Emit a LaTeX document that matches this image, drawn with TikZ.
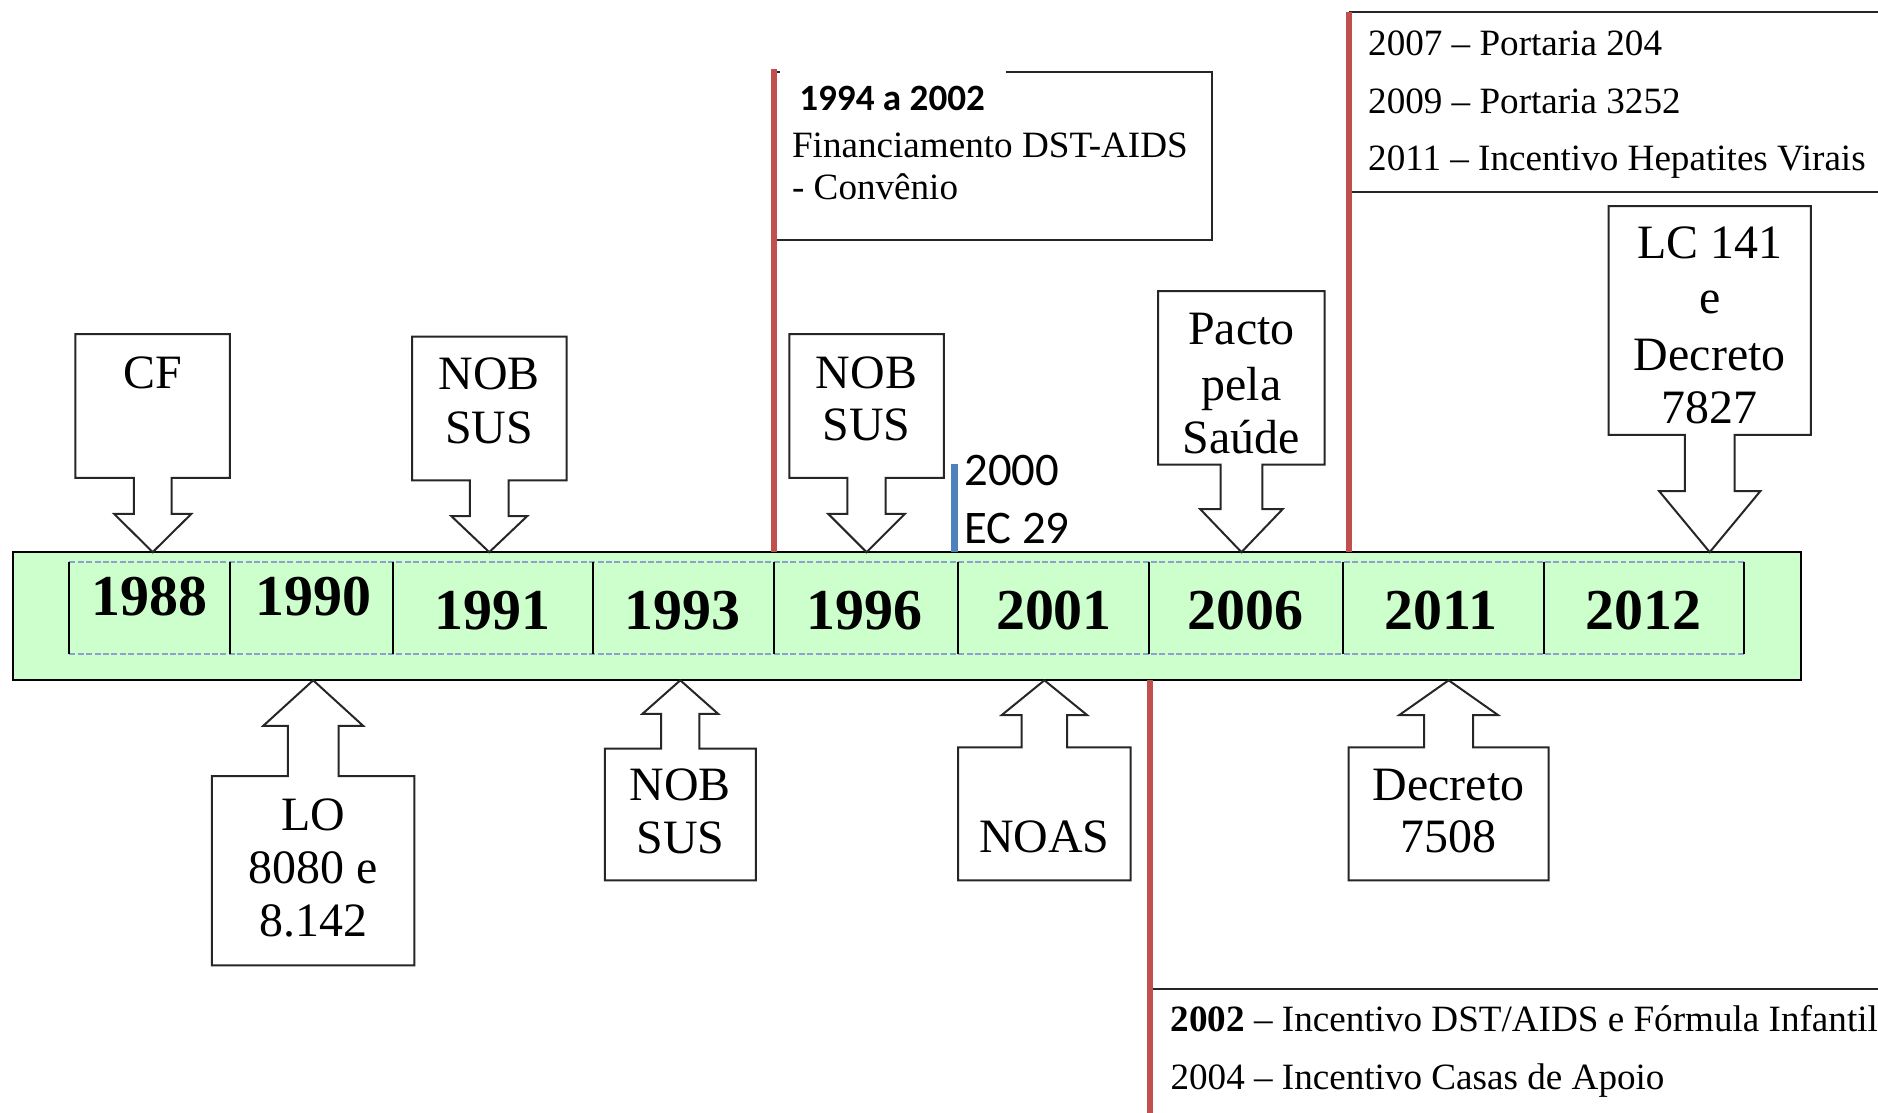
\documentclass[tikz,border=0pt]{standalone}
\usepackage{fontspec}
\setmainfont{Liberation Serif}
\newfontfamily\calfont{Carlito}
\definecolor{bandgreen}{HTML}{CCFFCC}
\definecolor{redline}{HTML}{C0504D}
\definecolor{blueline}{HTML}{4F81BD}
\definecolor{dashblue}{HTML}{8E9FD0}
\tikzset{
  outline/.style={draw=black!85, line width=1pt, fill=white, line join=miter},
  boxline/.style={draw=black!85, line width=1pt},
  ctext/.style={font=\fontsize{24}{28}\selectfont, anchor=base, inner sep=0pt},
  ytext/.style={font=\fontsize{29}{34}\bfseries\selectfont, anchor=base, inner sep=0pt},
  stext/.style={font=\fontsize{18.6}{22}\selectfont, anchor=base west, inner sep=0pt},
  ktext/.style={font=\fontsize{23.4}{28}\calfont\selectfont, anchor=base west, inner sep=0pt},
  redrule/.style={draw=redline, line width=3pt},
  dashrule/.style={draw=dashblue, line width=0.8pt, dash pattern=on 3pt off 1.2pt},
  divider/.style={draw=black, line width=1pt},
}
% down callout: x1 x2 ytop ybot shafthalf headhalf headtop tipy
\newcommand\downcall[8]{%
  \pgfmathsetmacro\cx{(#1+#2)/2}
  \draw[outline] (#1,#4) -- (#1,#3) -- (#2,#3) -- (#2,#4) -- (\cx+#5,#4) -- (\cx+#5,#7)
    -- (\cx+#6,#7) -- (\cx,#8) -- (\cx-#6,#7) -- (\cx-#5,#7) -- (\cx-#5,#4) -- cycle;
}
% up callout: x1 x2 ytop ybot shafthalf headhalf headbase tipy
\newcommand\upcall[8]{%
  \pgfmathsetmacro\cx{(#1+#2)/2}
  \draw[outline] (#1,#3) -- (\cx-#5,#3) -- (\cx-#5,#7) -- (\cx-#6,#7) -- (\cx,#8)
    -- (\cx+#6,#7) -- (\cx+#5,#7) -- (\cx+#5,#3) -- (#2,#3) -- (#2,#4) -- (#1,#4) -- cycle;
}
\begin{document}
\begin{tikzpicture}[x=0.6pt,y=-0.6pt]
\useasboundingbox (0,0) rectangle (1568,929);
\clip (0,0) rectangle (1568,929);

% timeline band
\node[draw=black, line width=1pt, fill=bandgreen, minimum width=895.8pt, minimum height=64.2pt, inner sep=0pt] (band) at (757.5,514.5) {};
\draw[dashrule] (58,469) -- (1456,469);
\draw[dashrule] (58,546) -- (1456,546);
\foreach \xx in {58,192,328,495,646,800,959,1121,1289,1456}
  \draw[divider] (\xx,469) -- (\xx,546);

% years
\node[ytext] (y1988) at (125,514) {1988};
\node[ytext] (y1990) at (262,514) {1990};
\node[ytext] (y1991) at (411,526) {1991};
\node[ytext] (y1993) at (570,526) {1993};
\node[ytext] (y1996) at (722,526) {1996};
\node[ytext] (y2001) at (880,526) {2001};
\node[ytext] (y2006) at (1040,526) {2006};
\node[ytext] (y2011) at (1203,526) {2011};
\node[ytext] (y2012) at (1372,526) {2012};

% top callouts
\downcall{63}{192}{279}{399}{15.7}{32.3}{429}{461}
\node[ctext] (cf) at (127.5,324) {CF};

\downcall{344}{473}{281}{401}{16.1}{31.6}{431}{461}
\node[ctext] (nobA1) at (408.5,325) {NOB};
\node[ctext] (nobA2) at (408.5,370) {SUS};

\downcall{659}{788}{279}{399}{16}{32}{429}{461}
\node[ctext] (nobB1) at (723.5,324) {NOB};
\node[ctext] (nobB2) at (723.5,368) {SUS};

\downcall{967}{1106}{243}{388}{17.4}{34.5}{425}{461}
\node[ctext] (pacto1) at (1036.5,288) {Pacto};
\node[ctext] (pacto2) at (1036.5,334) {pela};
\node[ctext] (pacto3) at (1036.5,379) {Saúde};

\downcall{1343}{1512}{172}{363}{20.7}{42.3}{410}{461}
\node[ctext] (lc1) at (1427.5,216) {LC 141};
\node[ctext] (lc2) at (1427.5,262) {e};
\node[ctext] (lc3) at (1427.5,309) {Decreto};
\node[ctext] (lc4) at (1427.5,354) {7827};

% bottom callouts
\upcall{177}{346}{648}{806}{21.2}{41.7}{606}{568}
\node[ctext] (lo1) at (261.5,693) {LO};
\node[ctext] (lo2) at (261.5,738) {8080 e};
\node[ctext] (lo3) at (261.5,782) {8.142};

\upcall{505}{631}{625}{735}{16}{31.6}{596}{568}
\node[ctext] (nobC1) at (568,668) {NOB};
\node[ctext] (nobC2) at (568,713) {SUS};

\upcall{800}{944}{624}{735}{19}{35.6}{597}{568}
\node[ctext] (noas) at (872,712) {NOAS};

\upcall{1126}{1293}{624}{735}{20.4}{41.2}{597}{568}
\node[ctext] (dec1) at (1209.5,668) {Decreto};
\node[ctext] (dec2) at (1209.5,712) {7508};

% 1994 a 2002 box
\draw[boxline] (840,60) -- (1012,60) -- (1012,200) -- (646,200);
\draw[boxline] (646,60) -- (651,60);
\draw[redrule] (646,58) -- (646,461);
\node[font=\fontsize{18.6}{22}\calfont\bfseries\selectfont, anchor=base west, inner sep=0pt] (fin0) at (667,92.5) {1994 a 2002};
\node[stext] (fin1) at (661,131.5) {Financiamento DST-AIDS};
\node[stext] (fin2) at (661,166.5) {- Convênio};

% top right box
\draw[boxline] (1126,10) -- (1575,10);
\draw[boxline] (1126,160) -- (1575,160);
\draw[redrule] (1126,10) -- (1126,461);
\node[stext] (p1) at (1142,46.5) {2007 – Portaria 204};
\node[stext] (p2) at (1142,94.5) {2009 – Portaria 3252};
\node[stext] (p3) at (1142,142.5) {2011 – Incentivo Hepatites Virais};

% bottom right box
\draw[boxline] (960,826) -- (1575,826);
\draw[redrule] (960,568) -- (960,935);
\node[stext] (q1) at (977,861.5) {\textbf{2002} – Incentivo DST/AIDS e Fórmula Infantil};
\node[stext] (q2) at (977,909.5) {2004 – Incentivo Casas de Apoio};

% EC 29
\draw[draw=blueline, line width=3.6pt] (797,387) -- (797,461);
\node[ktext] (ec1) at (805,405.5) {2000};
\node[ktext] (ec2) at (805,453.5) {EC 29};
\end{tikzpicture}
\end{document}
